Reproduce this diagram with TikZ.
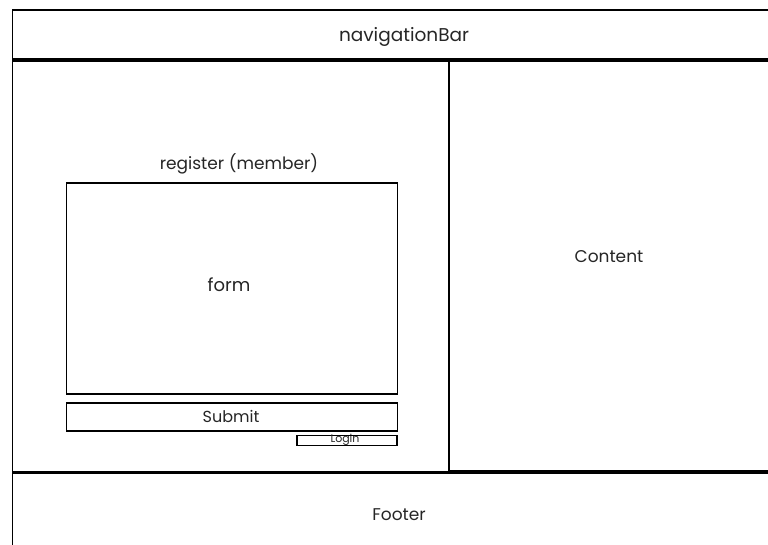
\documentclass[tikz,border=0pt]{standalone}
\usepackage{fontspec}
\setmainfont{Poppins}
\begin{document}
\begin{tikzpicture}[x=1pt,y=-1pt,
  box/.style={draw=black,line width=1.8pt,inner sep=0pt,anchor=north west},
  lbl/.style={font=\fontsize{17}{20}\selectfont,text=black!85,inner sep=1pt}]
\useasboundingbox (0,0) rectangle (768,545);
\fill[white] (0,0) rectangle (768,545);
% outer frame
\coordinate (tl) at (12.5,10);
\coordinate (tr) at (770,10);
\coordinate (bl) at (12.5,547);
\draw[line width=1.8pt] (bl) -- (tl) -- (tr);
% nav bar bottom
\coordinate (nl) at (12.5,60);
\coordinate (nr) at (770,60);
\draw[line width=3.5pt] (nl) -- (nr);
% footer top
\coordinate (fl) at (12.5,472);
\coordinate (fm) at (449,472);
\coordinate (fr) at (770,472);
\draw[line width=3pt] (fl) -- (fm);
\draw[line width=4.5pt] (fm) -- (fr);
% vertical divider
\coordinate (dt) at (449,60);
\draw[line width=1.8pt] (dt) -- (fm);
% texts
\node[lbl,font=\fontsize{18.5}{20}\selectfont] (nav) at (404,37) {navigationBar};
\node[lbl] (content) at (609,257) {Content};
\node[lbl] (reg) at (239,164) {register (member)};
\node[lbl] (footer) at (399,515) {Footer};
% form
\node[box,minimum width=331pt,minimum height=211pt] (form) at (65.5,182) {};
\node[lbl,font=\fontsize{18}{20}\selectfont] at (229,285) {form};
\node[box,minimum width=331pt,minimum height=28pt] (submit) at (65.5,402) {};
\node[lbl,font=\fontsize{16}{18}\selectfont] at (231,416) {Submit};
\node[box,minimum width=100pt,minimum height=10pt] (login) at (296,434.5) {};
\node[font=\fontsize{11}{12}\selectfont,inner sep=0pt,text=black!85] at (345,440) {Login};
\end{tikzpicture}
\end{document}
